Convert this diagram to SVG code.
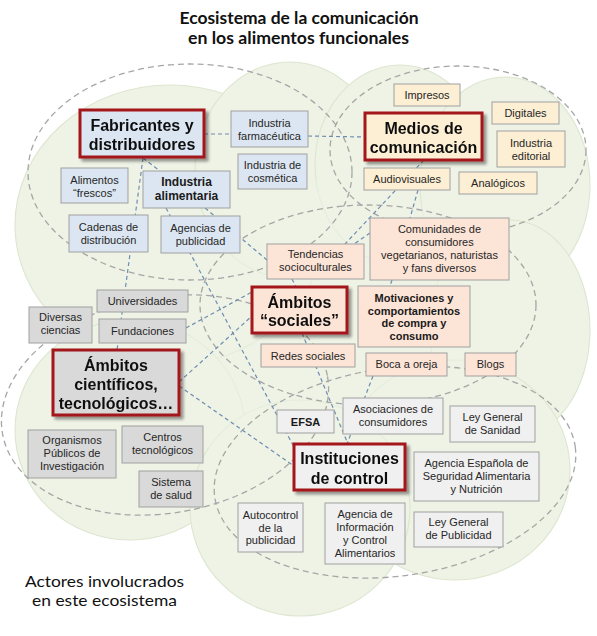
<svg xmlns="http://www.w3.org/2000/svg" width="597" height="636" viewBox="0 0 597 636">
<style>
.t{font-family:"Liberation Sans",Arial,sans-serif;font-size:11px;fill:#262626;text-anchor:middle}
.tb{font-family:"Liberation Sans",Arial,sans-serif;font-size:11px;font-weight:bold;fill:#1a1a1a;text-anchor:middle}
.tm{font-family:"Liberation Sans",Arial,sans-serif;font-size:12px;font-weight:bold;fill:#1a1a1a;text-anchor:middle}
.tB{font-family:"Liberation Sans",Arial,sans-serif;font-size:16px;font-weight:bold;fill:#111;text-anchor:middle}
.title{font-family:Lato,"Open Sans",sans-serif;font-size:17px;font-weight:bold;fill:#111;text-anchor:middle}
.cap{font-family:Lato,"Open Sans",sans-serif;font-size:15px;fill:#111;text-anchor:middle}
.n{stroke:#a0a0a0;stroke-width:1}
.big{stroke:#a3161b;stroke-width:3}
.blue{fill:#dce6f2}
.yel{fill:#fdefd4}
.pch{fill:#fce4d6}
.gry{fill:#d9d9d9}
.wht{fill:#f0f0f0}
.ell{fill:none;stroke:#a6a6a6;stroke-width:1.3;stroke-dasharray:6 4}
.con{fill:none;stroke:#6f8db0;stroke-width:1.2;stroke-dasharray:4 3}
.lobe{fill:#eef3e6;stroke:#dce6cf;stroke-width:1.1}
</style>
<defs>
<filter id="sh" x="-10%" y="-10%" width="130%" height="140%">
<feGaussianBlur in="SourceAlpha" stdDeviation="1.6"/>
<feOffset dx="3" dy="3" result="o"/>
<feComponentTransfer><feFuncA type="linear" slope="0.4"/></feComponentTransfer>
<feMerge><feMergeNode/><feMergeNode in="SourceGraphic"/></feMerge>
</filter>
</defs>
<rect width="597" height="636" fill="#ffffff"/>
<g id="title">
<text class="title" x="299" y="24" textLength="239" lengthAdjust="spacingAndGlyphs">Ecosistema de la comunicación</text>
<text class="title" x="298.5" y="44" textLength="221" lengthAdjust="spacingAndGlyphs">en los alimentos funcionales</text>
</g>
<g id="cloud">
<ellipse cx="320" cy="330" rx="200" ry="170" fill="#eef3e6"/>
<ellipse class="lobe" cx="170" cy="225" rx="155" ry="140"/>
<ellipse class="lobe" cx="290" cy="170" rx="95" ry="108"/>
<ellipse class="lobe" cx="400" cy="165" rx="85" ry="100"/>
<ellipse class="lobe" cx="505" cy="185" rx="85" ry="108"/>
<ellipse class="lobe" cx="510" cy="330" rx="80" ry="110"/>
<ellipse class="lobe" cx="130" cy="430" rx="115" ry="110"/>
<ellipse class="lobe" cx="455" cy="470" rx="115" ry="110"/>
<ellipse class="lobe" cx="300" cy="508" rx="110" ry="108"/>
<ellipse cx="320" cy="330" rx="180" ry="150" fill="#eef3e6" opacity="0.5"/>
</g>
<g id="groups">
<ellipse class="ell" cx="190" cy="172" rx="162" ry="108"/>
<ellipse class="ell" cx="458" cy="150" rx="128" ry="84"/>
<ellipse class="ell" cx="368" cy="305" rx="168" ry="100"/>
<ellipse class="ell" cx="165" cy="405" rx="165" ry="108" transform="rotate(-10 165 405)"/>
<ellipse class="ell" cx="395" cy="472" rx="182" ry="104" transform="rotate(-8 395 472)"/>
</g>
<g id="connectors">
<path class="con" d="M204,134 L231,134"/>
<path class="con" d="M308,136 L365,137"/>
<path class="con" d="M143,158 L160,171"/>
<path class="con" d="M143,158 L117,350"/>
<path class="con" d="M166,208 L294,447"/>
<path class="con" d="M205,208 L267,260"/>
<path class="con" d="M186,328 L252,292"/>
<path class="con" d="M179,382 L252,316"/>
<path class="con" d="M179,386 L294,466"/>
<path class="con" d="M302,333 L348,444"/>
<path class="con" d="M292,279 L296,287"/>
<path class="con" d="M424,160 L345,244"/>
<path class="con" d="M418,190 L410,218"/>
<path class="con" d="M370,233 L354,244"/>
<path class="con" d="M373,376 L347,444"/>
<path class="con" d="M392,280 L390,286"/>
</g>
<g id="fabricantes" filter="url(#sh)"><rect class="big blue" x="80" y="110" width="124" height="47"/><text class="tB" x="142" y="131">Fabricantes y</text><text class="tB" x="142" y="150">distribuidores</text></g>
<g id="farmaceutica"><rect class="n blue" x="231" y="111" width="77" height="36"/><text class="t" x="269.5" y="126.5">Industria</text><text class="t" x="269.5" y="139.5">farmacéutica</text></g>
<g id="cosmetica"><rect class="n blue" x="238" y="154" width="69" height="35"/><text class="t" x="272.5" y="169">Industria de</text><text class="t" x="272.5" y="182">cosmética</text></g>
<g id="frescos"><rect class="n blue" x="61" y="168" width="67" height="35"/><text class="t" x="94.5" y="184">Alimentos</text><text class="t" x="94.5" y="197">“frescos”</text></g>
<g id="alimentaria"><rect class="n blue" x="143" y="171" width="87" height="37"/><text class="tm" x="186.5" y="186">Industria</text><text class="tm" x="186.5" y="200">alimentaria</text></g>
<g id="cadenas"><rect class="n blue" x="69" y="215" width="79" height="37"/><text class="t" x="108.5" y="231">Cadenas de</text><text class="t" x="108.5" y="244">distribución</text></g>
<g id="agencias"><rect class="n blue" x="161" y="216" width="79" height="37"/><text class="t" x="200.5" y="232">Agencias de</text><text class="t" x="200.5" y="245">publicidad</text></g>
<g id="medios" filter="url(#sh)"><rect class="big yel" x="365" y="113" width="117" height="47"/><text class="tB" x="423.5" y="134">Medios de</text><text class="tB" x="423.5" y="153">comunicación</text></g>
<g id="impresos"><rect class="n yel" x="394" y="84" width="66" height="22"/><text class="t" x="427" y="99">Impresos</text></g>
<g id="digitales"><rect class="n yel" x="492" y="102" width="67" height="22"/><text class="t" x="525.5" y="117">Digitales</text></g>
<g id="editorial"><rect class="n yel" x="497" y="131" width="68" height="36"/><text class="t" x="531" y="147">Industria</text><text class="t" x="531" y="159.5">editorial</text></g>
<g id="audiovisuales"><rect class="n yel" x="364" y="168" width="86" height="22"/><text class="t" x="407" y="182.5">Audiovisuales</text></g>
<g id="analogicos"><rect class="n yel" x="459" y="172" width="78" height="22"/><text class="t" x="498" y="186.5">Analógicos</text></g>
<g id="comunidades"><rect class="n pch" x="370" y="218" width="139" height="62"/><text class="t" x="439.5" y="233">Comunidades  de</text><text class="t" x="439.5" y="246">consumidores</text><text class="t" x="439.5" y="259">vegetarianos, naturistas</text><text class="t" x="439.5" y="272">y fans diversos</text></g>
<g id="tendencias"><rect class="n pch" x="267" y="244" width="97" height="35"/><text class="t" x="315.5" y="258">Tendencias</text><text class="t" x="315.5" y="271">socioculturales</text></g>
<g id="sociales" filter="url(#sh)"><rect class="big pch" x="252" y="287" width="95" height="46"/><text class="tB" x="299.5" y="308">Ámbitos</text><text class="tB" x="299.5" y="326">“sociales”</text></g>
<g id="motivaciones"><rect class="n pch" x="358" y="286" width="112" height="61"/><text class="tb" x="414" y="302">Motivaciones y</text><text class="tb" x="414" y="314.5">comportamientos</text><text class="tb" x="414" y="327">de compra y</text><text class="tb" x="414" y="339.5">consumo</text></g>
<g id="redes"><rect class="n pch" x="261" y="344" width="94" height="23"/><text class="t" x="308" y="359.5">Redes sociales</text></g>
<g id="boca"><rect class="n pch" x="366" y="353" width="81" height="23"/><text class="t" x="406.5" y="368">Boca a oreja</text></g>
<g id="blogs"><rect class="n pch" x="465" y="353" width="51" height="23"/><text class="t" x="490.5" y="368">Blogs</text></g>
<g id="universidades"><rect class="n gry" x="97" y="290" width="91" height="22"/><text class="t" x="142.5" y="305">Universidades</text></g>
<g id="diversas"><rect class="n gry" x="29" y="307" width="63" height="36"/><text class="t" x="60.5" y="321">Diversas</text><text class="t" x="60.5" y="334">ciencias</text></g>
<g id="fundaciones"><rect class="n gry" x="99" y="319" width="87" height="24"/><text class="t" x="142.5" y="334.5">Fundaciones</text></g>
<g id="cientificos" filter="url(#sh)"><rect class="big gry" x="53" y="350" width="126" height="65"/><text class="tB" x="116" y="371">Ámbitos</text><text class="tB" x="116" y="390">científicos,</text><text class="tB" x="116" y="409">tecnológicos…</text></g>
<g id="organismos"><rect class="n gry" x="28" y="430" width="88" height="48"/><text class="t" x="72" y="444">Organismos</text><text class="t" x="72" y="457">Públicos de</text><text class="t" x="72" y="470">Investigación</text></g>
<g id="centros"><rect class="n gry" x="122" y="426" width="81" height="37"/><text class="t" x="162.5" y="441">Centros</text><text class="t" x="162.5" y="454">tecnológicos</text></g>
<g id="sistema"><rect class="n gry" x="139" y="471" width="64" height="36"/><text class="t" x="171" y="486">Sistema</text><text class="t" x="171" y="499">de salud</text></g>
<g id="efsa"><rect class="n wht" x="277" y="410" width="57" height="23"/><text class="tb" x="305.5" y="425.5">EFSA</text></g>
<g id="asociaciones"><rect class="n wht" x="343" y="398" width="100" height="36"/><text class="t" x="393" y="413">Asociaciones de</text><text class="t" x="393" y="426">consumidores</text></g>
<g id="leysanidad"><rect class="n wht" x="450" y="406" width="85" height="36"/><text class="t" x="492.5" y="421">Ley General</text><text class="t" x="492.5" y="434">de Sanidad</text></g>
<g id="instituciones" filter="url(#sh)"><rect class="big wht" x="294" y="444" width="111" height="46"/><text class="tB" x="349.5" y="464">Instituciones</text><text class="tB" x="349.5" y="484">de control</text></g>
<g id="aesan"><rect class="n wht" x="414" y="452" width="125" height="49"/><text class="t" x="476.5" y="467">Agencia Española  de</text><text class="t" x="476.5" y="480">Seguridad Alimentaria</text><text class="t" x="476.5" y="493">y Nutrición</text></g>
<g id="autocontrol"><rect class="n wht" x="238" y="503" width="65" height="49"/><text class="t" x="270.5" y="519">Autocontrol</text><text class="t" x="270.5" y="531.5">de la</text><text class="t" x="270.5" y="544">publicidad</text></g>
<g id="aicsa"><rect class="n wht" x="325" y="503" width="80" height="61"/><text class="t" x="365" y="518">Agencia de</text><text class="t" x="365" y="531">Información</text><text class="t" x="365" y="544">y Control</text><text class="t" x="365" y="557">Alimentarios</text></g>
<g id="leypublicidad"><rect class="n wht" x="414" y="512" width="89" height="35"/><text class="t" x="458.5" y="526">Ley General</text><text class="t" x="458.5" y="539">de Publicidad</text></g>
<g id="caption">
<text class="cap" x="104.5" y="587" textLength="159" lengthAdjust="spacingAndGlyphs">Actores involucrados</text>
<text class="cap" x="104.5" y="605.5" textLength="145" lengthAdjust="spacingAndGlyphs">en este ecosistema</text>
</g>
</svg>
